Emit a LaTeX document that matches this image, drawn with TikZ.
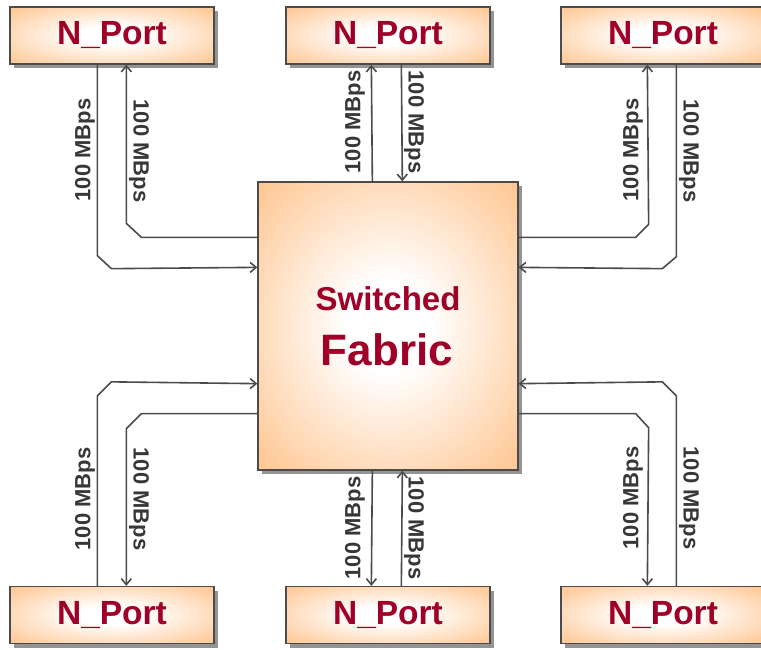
\documentclass[tikz,border=0pt]{standalone}
\usepackage{fontspec}
\setmainfont{Liberation Sans}
\usetikzlibrary{arrows.meta,calc,shadows}
\definecolor{boxor}{RGB}{255,200,150}
\definecolor{boxtext}{RGB}{160,0,40}
\definecolor{linegray}{RGB}{75,75,75}
\definecolor{labgray}{RGB}{55,55,55}
\pgfdeclareradialshading{boxglow}{\pgfpoint{0bp}{0bp}}{color(0bp)=(white); color(8bp)=(white); color(34bp)=(boxor); color(100bp)=(boxor)}
\tikzset{
  portbox/.style={draw=linegray, line width=1.3pt, shading=boxglow,
    minimum width=204pt, minimum height=57pt, inner sep=0pt,
    font=\bfseries\fontsize{33.5}{36}\selectfont, text=boxtext,
    drop shadow={shadow xshift=4pt, shadow yshift=-4pt, opacity=0.6, fill=black!70}},
  fabricbox/.style={draw=linegray, line width=1.3pt, shading=boxglow,
    minimum width=260pt, minimum height=288pt, inner sep=0pt,
    drop shadow={shadow xshift=4pt, shadow yshift=-4pt, opacity=0.6, fill=black!70}},
  link/.style={draw=linegray, line width=1.6pt, -{Straight Barb[length=6pt,width=10pt]}},
  rate/.style={font=\bfseries\fontsize{22}{24}\selectfont, text=labgray, inner sep=0pt},
  up/.style={rate, rotate=90},
  down/.style={rate, rotate=-90}
}
\begin{document}
\begin{tikzpicture}[x=1pt,y=-1pt]
\useasboundingbox (0,0) rectangle (761,649);
% boxes
\node[fabricbox] (F) at (388,326) {};
\node[text=boxtext, font=\bfseries\fontsize{33}{36}\selectfont, anchor=base] (sw) at (388,310) {Switched};
\node[text=boxtext, font=\bfseries\fontsize{44}{48}\selectfont, anchor=base] (fab) at (387,365) {Fabric};
\node[portbox] (TL) at (112,35.5) {N\_Port};
\node[portbox] (TM) at (388,35.5) {N\_Port};
\node[portbox] (TR) at (663,35.5) {N\_Port};
\node[portbox] (BL) at (112,615) {N\_Port};
\node[portbox] (BM) at (388,615) {N\_Port};
\node[portbox] (BR) at (663,615) {N\_Port};
% top-left links
\draw[link] ($(TL.south west)+(88,0)$) -- ++(0,191) -- ++(14,13) -- ($(F.north west)+(0,86)$);
\draw[link] ($(F.north west)+(0,56)$) -- ++(-116,0) -- ++(-15,-14) -- ($(TL.south west)+(117,0)$);
% top-middle links
\draw[link] ($(F.north west)+(115,0)$) -- ($(TM.south west)+(86,0)$);
\draw[link] ($(TM.south west)+(116,0)$) -- ($(F.north west)+(145,0)$);
% top-right links
\draw[link] ($(F.north east)+(0,56)$) -- ++(117,0) -- ++(13,-13) -- ($(TR.south west)+(87,0)$);
\draw[link] ($(TR.south west)+(116,0)$) -- ++(0,192) -- ++(-14,12) -- ($(F.north east)+(0,86)$);
% bottom-left links
\draw[link] ($(BL.north west)+(88,0)$) -- ++(0,-190) -- ++(14,-14) -- ($(F.south west)+(0,-87)$);
\draw[link] ($(F.south west)+(0,-57)$) -- ++(-116,0) -- ++(-15,15) -- ($(BL.north west)+(117,0)$);
% bottom-middle links
\draw[link] ($(F.south west)+(115,0)$) -- ($(BM.north west)+(86,0)$);
\draw[link] ($(BM.north west)+(116,0)$) -- ($(F.south west)+(145,0)$);
% bottom-right links
\draw[link] ($(F.south east)+(0,-57)$) -- ++(117,0) -- ++(13,14) -- ($(BR.north west)+(87,0)$);
\draw[link] ($(BR.north west)+(116,0)$) -- ++(0,-190) -- ++(-14,-14) -- ($(F.south east)+(0,-87)$);
% labels
\node[up] (l1) at (85,150) {100 MBps};
\node[down] (l2) at (139,151) {100 MBps};
\node[up] (l3) at (355,122) {100 MBps};
\node[down] (l4) at (414,122) {100 MBps};
\node[up] (l5) at (633,150) {100 MBps};
\node[down] (l6) at (689,151) {100 MBps};
\node[up] (l7) at (85,499) {100 MBps};
\node[down] (l8) at (139,499) {100 MBps};
\node[up] (l9) at (355,528) {100 MBps};
\node[down] (l10) at (414,528) {100 MBps};
\node[up] (l11) at (633,498) {100 MBps};
\node[down] (l12) at (689,498) {100 MBps};
\end{tikzpicture}
\end{document}
